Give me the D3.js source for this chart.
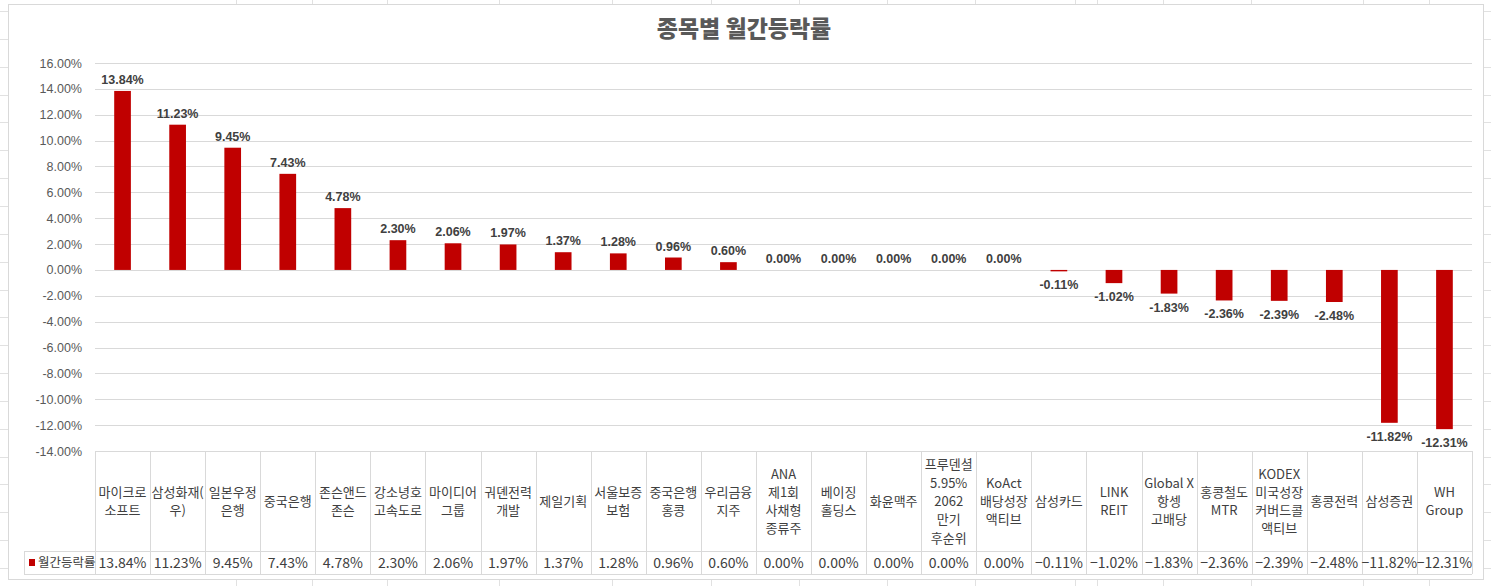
<!DOCTYPE html>
<html>
<head>
<meta charset="utf-8">
<script src="https://cdn.jsdelivr.net/npm/d3@7"></script>
<style>
	html, body { margin: 0; padding: 0; background: #fff; }
	#vis { width: 1491px; height: 586px; }
	text { font-family: "Liberation Sans", Arial, sans-serif; }
	.kr { font-family: "Noto Sans CJK KR", sans-serif; }
</style>
</head>
<body>
<div id="vis"></div>
<script>
// line breaks in the names are the breaks of the data table header
var categories = [
	"마이크로\n소프트", "삼성화재(\n우)", "일본우정\n은행", "중국은행", "존슨앤드\n존슨",
	"강소녕호\n고속도로", "마이디어\n그룹", "궈뎬전력\n개발", "제일기획", "서울보증\n보험",
	"중국은행\n홍콩", "우리금융\n지주", "ANA\n제1회\n사채형\n종류주", "베이징\n홀딩스", "화윤맥주",
	"프루덴셜\n5.95%\n2062\n만기\n후순위", "KoAct\n배당성장\n액티브", "삼성카드", "LINK\nREIT", "Global X\n항셍\n고배당",
	"홍콩철도\nMTR", "KODEX\n미국성장\n커버드콜\n액티브", "홍콩전력", "삼성증권", "WH\nGroup"
];

var values = [
	13.84, 11.23, 9.45, 7.43, 4.78,
	2.30, 2.06, 1.97, 1.37, 1.28,
	0.96, 0.60, 0.00, 0.00, 0.00,
	0.00, 0.00, -0.11, -1.02, -1.83,
	-2.36, -2.39, -2.48, -11.82, -12.31
];

var yTicks = [-14, -12, -10, -8, -6, -4, -2, 0, 2, 4, 6, 8, 10, 12, 14, 16];

var seriesName = "월간등락률";
var title = "종목별 월간등락률";

// the spreadsheet cells behind the chart
var sheetCols = [236, 312, 387, 499, 612, 711, 799, 887, 975, 1075, 1097, 1163, 1251, 1363, 1429];

function chart () {
	var W = 1491, H = 586;
	var box = { x0: 8, y0: 4, x1: 1483, y1: 579 };
	var plot = { left: 95, right: 1472, top: 63, bottom: 451 };
	var table = { head: 551, bottom: 574, legendLeft: 24 };
	var gridCol = "#d9d9d9";
	var barCol = "#c00000";

	var svg = d3.select("#vis").append("svg")
	.attr("width", W)
	.attr("height", H);

	// sheet grid, only visible round the chart box
	var sheet = svg.append("g").attr("stroke", "#e1e1e1").attr("shape-rendering", "crispEdges");
	sheet.selectAll(".col")
	.data(sheetCols)
	.enter()
	.append("line")
	.attr("x1", function (d) { return d + 0.5; })
	.attr("x2", function (d) { return d + 0.5; })
	.attr("y1", 0)
	.attr("y2", H);
	sheet.selectAll(".row")
	.data(d3.range(11, H, 27.85))
	.enter()
	.append("line")
	.attr("x1", 0)
	.attr("x2", W)
	.attr("y1", function (d) { return Math.round(d) + 0.5; })
	.attr("y2", function (d) { return Math.round(d) + 0.5; });

	svg.append("rect")
	.attr("x", box.x0 + 0.5)
	.attr("y", box.y0 + 0.5)
	.attr("width", box.x1 - box.x0)
	.attr("height", box.y1 - box.y0)
	.attr("fill", "#fff")
	.attr("stroke", gridCol);

	svg.append("text")
	.attr("class", "kr")
	.attr("x", 744)
	.attr("y", 37)
	.attr("text-anchor", "middle")
	.attr("font-size", 23)
	.attr("font-weight", 900)
	.attr("fill", "#595959")
	.text(title);

	var x = d3.scaleBand()
	.domain(d3.range(categories.length))
	.range([plot.left, plot.right])
	.paddingInner(0)
	.paddingOuter(0);

	var y = d3.scaleLinear()
	.domain([-14, 16])
	.range([plot.bottom, plot.top]);

	// gridlines + labels from the axis generator
	var yAxis = svg.append("g")
	.attr("transform", "translate(" + plot.left + ",0)")
	.call(d3.axisLeft(y)
		.tickValues(yTicks)
		.tickSize(-(plot.right - plot.left))
		.tickPadding(13)
		.tickFormat(function (d) { return d.toFixed(2) + "%"; }));

	yAxis.select(".domain").remove();
	yAxis.selectAll(".tick line")
	.attr("stroke", gridCol)
	.attr("shape-rendering", "crispEdges");
	yAxis.selectAll(".tick text")
	.attr("fill", "#595959")
	.attr("font-size", 12.5)
	.attr("font-family", "Liberation Sans, Arial, sans-serif");

	var barW = x.bandwidth() * 0.303;

	svg.append("g")
	.selectAll("rect")
	.data(values)
	.enter()
	.append("rect")
	.attr("x", function (d, i) { return x(i) + (x.bandwidth() - barW) / 2; })
	.attr("y", function (d) { return y(Math.max(0, d)); })
	.attr("width", barW)
	.attr("height", function (d) { return Math.abs(y(d) - y(0)); })
	.attr("fill", barCol);

	svg.append("g")
	.selectAll("text")
	.data(values)
	.enter()
	.append("text")
	.attr("x", function (d, i) { return x(i) + x.bandwidth() / 2; })
	.attr("y", function (d) { return d < 0 ? y(d) + 18 : y(d) - 7; })
	.attr("text-anchor", "middle")
	.attr("font-size", 12.5)
	.attr("font-weight", "bold")
	.attr("fill", "#404040")
	.text(function (d) { return d.toFixed(2) + "%"; });

	// data table
	var tbl = svg.append("g")
	.attr("stroke", gridCol)
	.attr("shape-rendering", "crispEdges");

	tbl.selectAll(".vline")
	.data(d3.range(categories.length + 1))
	.enter()
	.append("line")
	.attr("x1", function (d) { return Math.round(plot.left + d * x.bandwidth()) + 0.5; })
	.attr("x2", function (d) { return Math.round(plot.left + d * x.bandwidth()) + 0.5; })
	.attr("y1", plot.bottom)
	.attr("y2", table.bottom);

	tbl.selectAll(".hline")
	.data([plot.bottom, table.head, table.bottom])
	.enter()
	.append("line")
	.attr("x1", function (d) { return d == plot.bottom ? plot.left : table.legendLeft; })
	.attr("x2", plot.right)
	.attr("y1", function (d) { return d + 0.5; })
	.attr("y2", function (d) { return d + 0.5; });

	tbl.append("line")
	.attr("x1", table.legendLeft + 0.5)
	.attr("x2", table.legendLeft + 0.5)
	.attr("y1", table.head)
	.attr("y2", table.bottom);

	var lineH = 18.3;
	var headMid = (plot.bottom + table.head) / 2 + 5;

	var heads = svg.append("g")
	.selectAll("text")
	.data(categories)
	.enter()
	.append("text")
	.attr("class", "kr")
	.attr("text-anchor", "middle")
	.attr("font-size", 13)
	.attr("fill", "#404040");

	heads.each(function (d, i) {
		var lines = d.split("\n");
		var t = d3.select(this);
		var top = headMid - (lines.length - 1) * lineH / 2;
		lines.forEach(function (l, k) {
			t.append("tspan")
			.attr("x", x(i) + x.bandwidth() / 2)
			.attr("y", top + k * lineH)
			.text(l);
		});
	});

	var rowMid = (table.head + table.bottom) / 2 + 5.5;

	svg.append("g")
	.selectAll("text")
	.data(values)
	.enter()
	.append("text")
	.attr("class", "kr")
	.attr("x", function (d, i) { return x(i) + x.bandwidth() / 2; })
	.attr("y", rowMid)
	.attr("text-anchor", "middle")
	.attr("font-size", 14)
	.attr("fill", "#404040")
	.text(function (d) { return (d < 0 ? "\u2212" + (-d).toFixed(2) : d.toFixed(2)) + "%"; });

	// legend key in the table row
	svg.append("rect")
	.attr("x", 29)
	.attr("y", rowMid - 9)
	.attr("width", 6)
	.attr("height", 7)
	.attr("fill", barCol);

	svg.append("text")
	.attr("class", "kr")
	.attr("x", 38)
	.attr("y", rowMid - 1)
	.attr("font-size", 12.5)
	.attr("fill", "#404040")
	.text(seriesName);
}

chart();
</script>
</body>
</html>
